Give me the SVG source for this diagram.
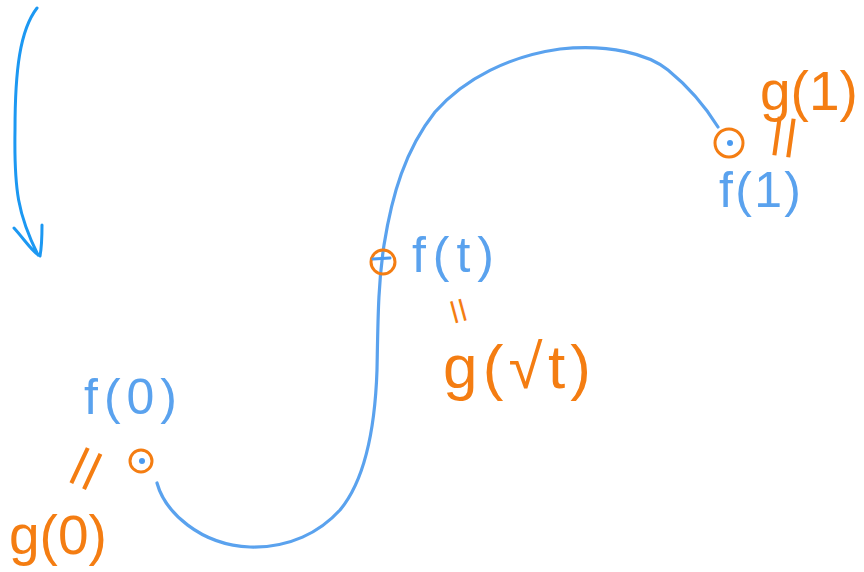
<svg xmlns="http://www.w3.org/2000/svg" width="864" height="572" viewBox="0 0 864 572">
  <style>
    .curve { fill: none; stroke: #5aa2ee; stroke-width: 3.2; stroke-linecap: round; stroke-linejoin: round; }
    .arrow { fill: none; stroke: #1c98f2; stroke-width: 3; stroke-linecap: round; stroke-linejoin: round; }
    .ring { fill: none; stroke: #f47d12; stroke-width: 3; }
    .dot { fill: #4a9af0; }
    .tick { stroke: #4a9af0; stroke-width: 3; stroke-linecap: round; }
    .blue { fill: #5aa2ee; font-family: "Liberation Sans", Arial, sans-serif; }
    .orange { fill: #f47d12; font-family: "Liberation Sans", Arial, sans-serif; }
  </style>
  <rect width="864" height="572" fill="#ffffff"/>

  <g id="connectors">
    <path id="direction-arrow" class="arrow" d="M37,8 C20,30 15,70 15,130 C14,190 18,215 38,255 M14,228 C25,240 32,252 40,256 C42,245 42,235 42,225"/>
    <path id="path-curve" class="curve" d="M157,483 C165,512 200,545 250,547 C290,548 320,532 340,510 C365,480 375,430 377,370 C378,320 378,285 384,245 C392,195 405,150 435,112 C465,78 510,56 560,49 C610,44 648,54 668,70 C690,88 705,106 718,127"/>
  </g>

  <g id="node-start">
    <circle class="ring" cx="141" cy="461" r="11"/>
    <circle class="dot" cx="142" cy="461" r="3"/>
    <text class="blue" x="84" y="414" font-size="50" textLength="93" lengthAdjust="spacing">f(0)</text>
    <text class="orange" x="0" y="0" font-size="80" text-anchor="middle" dominant-baseline="central" transform="translate(85 468) rotate(-65) scale(1 0.7)">=</text>
    <text class="orange" x="9" y="554" font-size="55">g(0)</text>
  </g>

  <g id="node-middle">
    <circle class="ring" cx="383" cy="262" r="12"/>
    <line class="tick" x1="373" y1="259" x2="390" y2="258"/>
    <text class="blue" x="412" y="272" font-size="50" textLength="82" lengthAdjust="spacing">f(t)</text>
    <text class="orange" x="0" y="0" font-size="46" text-anchor="middle" dominant-baseline="central" transform="translate(459 311) rotate(75) scale(1 0.75)">=</text>
    <text class="orange" x="443" y="388" font-size="62" textLength="148" lengthAdjust="spacing">g(√t)</text>
  </g>

  <g id="node-end">
    <circle class="ring" cx="729" cy="143" r="14"/>
    <circle class="dot" cx="730" cy="143" r="3"/>
    <text class="orange" x="760" y="110" font-size="55">g(1)</text>
    <text class="orange" x="0" y="0" font-size="80" text-anchor="middle" dominant-baseline="central" transform="translate(783 137) rotate(-82) scale(1 0.7)">=</text>
    <text class="blue" x="719" y="207" font-size="50" textLength="82" lengthAdjust="spacing">f(1)</text>
  </g>
</svg>
